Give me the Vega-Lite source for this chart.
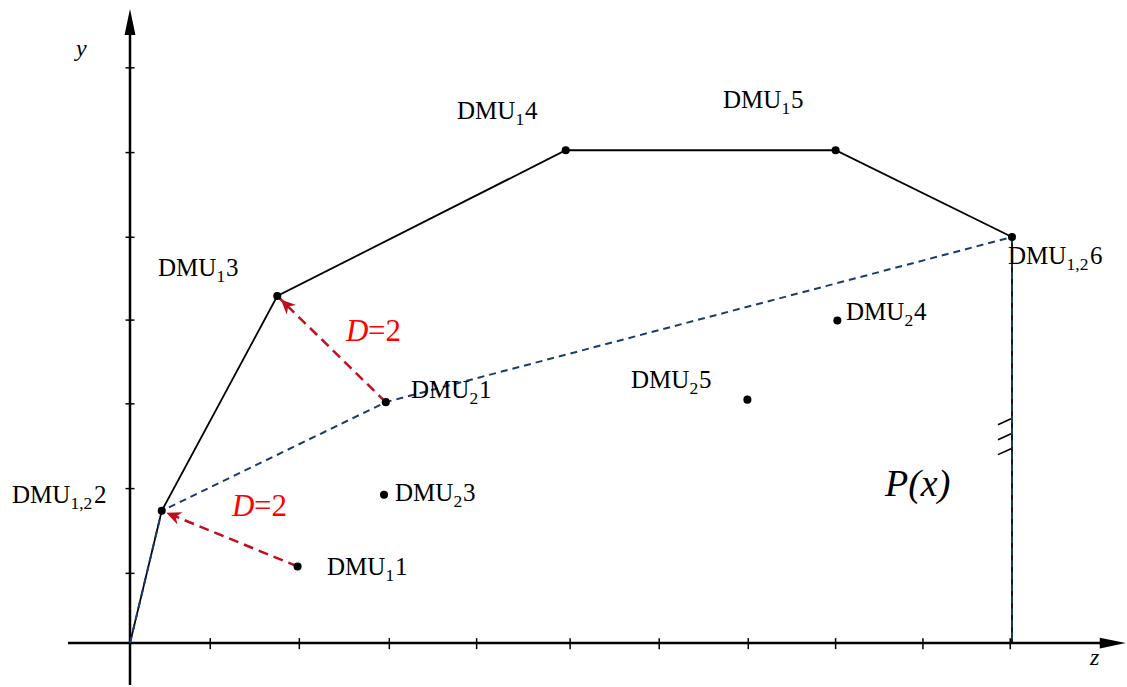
{
  "$schema": "https://vega.github.io/schema/vega-lite/v6.json",
  "width": 1127,
  "height": 687,
  "padding": 0,
  "autosize": {"type": "fit", "contains": "padding"},
  "background": "white",
  "config": {"view": {"stroke": null}},
  "datasets": {
    "axes": [
      {"x": 0, "y": -0.497, "x2": 0, "y2": 7.28},
      {"x": -0.703, "y": 0, "x2": 11.05, "y2": 0}
    ],
    "axisarrows": [
      {"k": "x", "x": 11.29, "y": 0},
      {"k": "y", "x": 0, "y": 7.527}
    ],
    "yticks": [
      {"x": 0, "y": 0.828}, {"x": 0, "y": 1.834}, {"x": 0, "y": 2.840},
      {"x": 0, "y": 3.834}, {"x": 0, "y": 4.817}, {"x": 0, "y": 5.822}, {"x": 0, "y": 6.828}
    ],
    "xticks": [
      {"x": 0.91, "y": -0.006}, {"x": 1.92, "y": -0.006}, {"x": 2.94, "y": -0.006},
      {"x": 3.93, "y": -0.006}, {"x": 4.99, "y": -0.006}, {"x": 6.0, "y": -0.006},
      {"x": 7.01, "y": -0.006}, {"x": 8.0, "y": -0.006}, {"x": 8.99, "y": -0.006},
      {"x": 9.98, "y": -0.006}
    ],
    "frontier": [
      {"s": "f1", "i": 0, "x": 0, "y": 0},
      {"s": "f1", "i": 1, "x": 0.36, "y": 1.57},
      {"s": "f1", "i": 2, "x": 1.67, "y": 4.12},
      {"s": "f1", "i": 3, "x": 4.94, "y": 5.85},
      {"s": "f1", "i": 4, "x": 8.0, "y": 5.85},
      {"s": "f1", "i": 5, "x": 10.0, "y": 4.82},
      {"s": "f1", "i": 6, "x": 10.0, "y": 0},
      {"s": "f2", "i": 0, "x": 0, "y": 0},
      {"s": "f2", "i": 1, "x": 0.36, "y": 1.57},
      {"s": "f2", "i": 2, "x": 2.9, "y": 2.86},
      {"s": "f2", "i": 3, "x": 10.0, "y": 4.82},
      {"s": "f2", "i": 4, "x": 10.0, "y": 0}
    ],
    "hatches": [
      {"x": 9.841, "y": 2.592, "x2": 9.989, "y2": 2.663},
      {"x": 9.841, "y": 2.414, "x2": 9.989, "y2": 2.485},
      {"x": 9.841, "y": 2.237, "x2": 9.989, "y2": 2.308}
    ],
    "arrows": [
      {"a": "a", "i": 0, "x": 1.9, "y": 0.91},
      {"a": "a", "i": 1, "x": 0.36, "y": 1.57},
      {"a": "b", "i": 0, "x": 2.9, "y": 2.86},
      {"a": "b", "i": 1, "x": 1.67, "y": 4.12}
    ],
    "pts": [
      {"n": "DMU1,2 2", "x": 0.36, "y": 1.57},
      {"n": "DMU1 1", "x": 1.9, "y": 0.91},
      {"n": "DMU1 3", "x": 1.67, "y": 4.12},
      {"n": "DMU2 1", "x": 2.9, "y": 2.86},
      {"n": "DMU2 3", "x": 2.88, "y": 1.76},
      {"n": "DMU1 4", "x": 4.94, "y": 5.85},
      {"n": "DMU1 5", "x": 8.0, "y": 5.85},
      {"n": "DMU1,2 6", "x": 10.0, "y": 4.82},
      {"n": "DMU2 4", "x": 8.02, "y": 3.83},
      {"n": "DMU2 5", "x": 7.0, "y": 2.89}
    ],
    "labels": [
      {"sub": "1,2", "num": "2", "x": -1.338, "y": 1.669},
      {"sub": "1", "num": "1", "x": 2.234, "y": 0.805},
      {"sub": "1", "num": "3", "x": 0.317, "y": 4.355},
      {"sub": "2", "num": "1", "x": 3.186, "y": 2.911},
      {"sub": "2", "num": "3", "x": 3.005, "y": 1.692},
      {"sub": "2", "num": "5", "x": 5.68, "y": 3.03},
      {"sub": "2", "num": "4", "x": 8.118, "y": 3.834},
      {"sub": "1", "num": "4", "x": 3.707, "y": 6.225},
      {"sub": "1", "num": "5", "x": 6.723, "y": 6.355},
      {"sub": "1,2", "num": "6", "x": 9.955, "y": 4.497}
    ],
    "axislabels": [
      {"t": "y", "x": -0.612, "y": 6.97},
      {"t": "z", "x": 10.884, "y": -0.26}
    ],
    "plabel": [
      {"t": "P(x)", "x": 8.56, "y": 1.751}
    ],
    "dlabels": [
      {"x": 2.449, "y": 3.586},
      {"x": 1.156, "y": 1.503}
    ]
  },
  "encoding": {
    "x": {"field": "x", "type": "quantitative", "scale": {"domain": [-1.4739, 11.3039], "nice": false, "zero": false}, "axis": null},
    "y": {"field": "y", "type": "quantitative", "scale": {"domain": [-0.497, 7.633], "nice": false, "zero": false}, "axis": null}
  },
  "layer": [
    {
      "data": {"name": "axes"},
      "mark": {"type": "rule", "color": "black", "strokeWidth": 2.5},
      "encoding": {"x2": {"field": "x2"}, "y2": {"field": "y2"}}
    },
    {
      "data": {"name": "axisarrows"},
      "mark": {"type": "point", "filled": true, "color": "black", "size": 676, "opacity": 1},
      "encoding": {
        "shape": {"field": "k", "type": "nominal", "scale": {"domain": ["x", "y"], "range": ["M0,0L-2,-0.42L-2,0.42Z", "M0,0L-0.42,2L0.42,2Z"]}, "legend": null}
      }
    },
    {
      "data": {"name": "yticks"},
      "mark": {"type": "tick", "orient": "horizontal", "size": 9, "thickness": 1.5, "color": "black", "opacity": 1}
    },
    {
      "data": {"name": "xticks"},
      "mark": {"type": "tick", "orient": "vertical", "size": 11, "thickness": 1.5, "color": "black", "opacity": 1}
    },
    {
      "data": {"name": "frontier"},
      "transform": [{"filter": "datum.s === 'f1'"}],
      "mark": {"type": "line", "color": "black", "strokeWidth": 1.8},
      "encoding": {"order": {"field": "i", "type": "quantitative"}}
    },
    {
      "data": {"name": "frontier"},
      "transform": [{"filter": "datum.s === 'f2'"}],
      "mark": {"type": "line", "color": "#1b3a6e", "strokeWidth": 2, "strokeDash": [7, 5]},
      "encoding": {"order": {"field": "i", "type": "quantitative"}}
    },
    {
      "data": {"name": "hatches"},
      "mark": {"type": "rule", "color": "black", "strokeWidth": 1.6},
      "encoding": {"x2": {"field": "x2"}, "y2": {"field": "y2"}}
    },
    {
      "data": {"name": "arrows"},
      "mark": {"type": "line", "color": "#c0101e", "strokeWidth": 2.5, "strokeDash": [10, 6]},
      "encoding": {"detail": {"field": "a", "type": "nominal"}, "order": {"field": "i", "type": "quantitative"}}
    },
    {
      "data": {"name": "arrows"},
      "transform": [{"filter": "datum.a === 'a' && datum.i === 1"}],
      "mark": {"type": "point", "filled": true, "color": "#c0101e", "opacity": 1, "size": 320, "angle": 202.4, "shape": "M-0.55,0L-2.2,-0.75L-1.7,0L-2.2,0.75Z"}
    },
    {
      "data": {"name": "arrows"},
      "transform": [{"filter": "datum.a === 'b' && datum.i === 1"}],
      "mark": {"type": "point", "filled": true, "color": "#c0101e", "opacity": 1, "size": 320, "angle": 224.2, "shape": "M-0.55,0L-2.2,-0.75L-1.7,0L-2.2,0.75Z"}
    },
    {
      "data": {"name": "pts"},
      "mark": {"type": "circle", "color": "black", "size": 65, "opacity": 1}
    },
    {
      "data": {"name": "labels"},
      "mark": {"type": "text", "text": "DMU", "font": "Liberation Serif", "align": "left", "baseline": "alphabetic", "fontSize": 25, "color": "black"}
    },
    {
      "data": {"name": "labels"},
      "mark": {"type": "text", "font": "Liberation Serif", "align": "left", "baseline": "alphabetic", "fontSize": 17.5, "dx": 58.5, "dy": 6, "color": "black"},
      "encoding": {"text": {"field": "sub", "type": "nominal"}}
    },
    {
      "data": {"name": "labels"},
      "transform": [{"filter": "datum.sub !== '1,2'"}],
      "mark": {"type": "text", "font": "Liberation Serif", "align": "left", "baseline": "alphabetic", "fontSize": 25, "dx": 68, "color": "black"},
      "encoding": {"text": {"field": "num", "type": "nominal"}}
    },
    {
      "data": {"name": "labels"},
      "transform": [{"filter": "datum.sub === '1,2'"}],
      "mark": {"type": "text", "font": "Liberation Serif", "align": "left", "baseline": "alphabetic", "fontSize": 25, "dx": 82, "color": "black"},
      "encoding": {"text": {"field": "num", "type": "nominal"}}
    },
    {
      "data": {"name": "axislabels"},
      "mark": {"type": "text", "font": "Liberation Serif", "align": "left", "baseline": "alphabetic", "fontSize": 24, "fontStyle": "italic", "color": "black"},
      "encoding": {"text": {"field": "t", "type": "nominal"}}
    },
    {
      "data": {"name": "plabel"},
      "mark": {"type": "text", "font": "Liberation Serif", "align": "left", "baseline": "alphabetic", "fontSize": 38, "fontStyle": "italic", "color": "black"},
      "encoding": {"text": {"field": "t", "type": "nominal"}}
    },
    {
      "data": {"name": "dlabels"},
      "mark": {"type": "text", "text": "D", "font": "Liberation Serif", "align": "left", "baseline": "alphabetic", "fontSize": 31, "fontStyle": "italic", "color": "#ff0000"}
    },
    {
      "data": {"name": "dlabels"},
      "mark": {"type": "text", "text": "=2", "font": "Liberation Serif", "align": "left", "baseline": "alphabetic", "fontSize": 31, "dx": 22, "color": "#ff0000"}
    }
  ]
}
